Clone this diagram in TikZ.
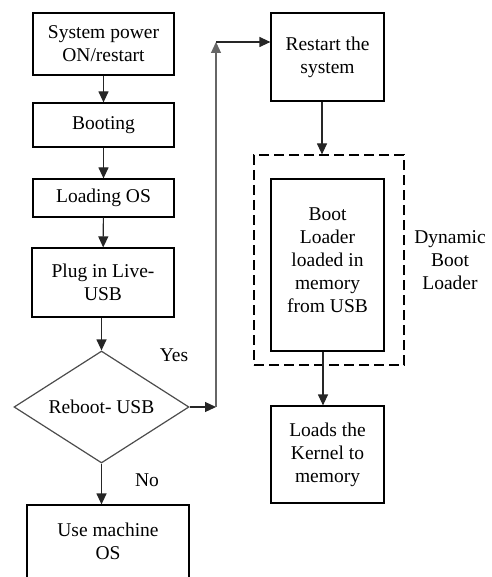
\documentclass[tikz,border=0pt]{standalone}
\usepackage{fontspec}
\setmainfont{Liberation Serif}
\newfontfamily\tmsfont{Liberation Serif}
\usetikzlibrary{arrows.meta,shapes.geometric}
\begin{document}
\begin{tikzpicture}[x=1pt,y=-1pt,
  txt/.style={align=center, font=\tmsfont\fontsize{19.5}{23}\selectfont, inner sep=0pt},
  box/.style={txt, draw, line width=1.2pt},
  arr/.style={-{Triangle[length=11pt,width=10pt]}, line width=1.2pt, draw=black!85}]
\useasboundingbox (0,0) rectangle (491,577);
\clip (0,0) rectangle (491,577);
% left column
\node[box, minimum width=141, minimum height=62] (b1) at (103.5,44) {System power\\ON/restart};
\node[box, minimum width=141, minimum height=44] (b2) at (103.5,125) {Booting};
\node[box, minimum width=141, minimum height=38] (b3) at (103.5,198) {Loading OS};
\node[box, minimum width=142, minimum height=69] (b4) at (103,282.5) {Plug in Live-\\USB};
\node[txt, diamond, draw=black!70, line width=1.2pt, minimum width=175, minimum height=112, aspect=1.5625] (dec) at (101.5,407) {Reboot- USB};
\node[box, minimum width=162, minimum height=100] (use) at (108,555) {};
\node[txt] (usetxt) at (108,541) {Use machine\\OS};
% right column
\node[box, minimum width=113, minimum height=88] (rst) at (327.5,57) {Restart the\\system};
\node[draw, dashed, dash pattern=on 10pt off 5pt, line width=1.2pt, minimum width=150, minimum height=210, inner sep=0pt] (dyn) at (329,260) {};
\node[box, minimum width=113, minimum height=172] (bl) at (327.5,265) {};
\node[txt] (bltxt) at (327.5,260) {Boot\\Loader\\loaded in\\memory\\from USB};
\node[box, minimum width=113, minimum height=97] (ker) at (327.5,454.5) {Loads the\\Kernel to\\memory};
% labels
\node[txt] (yes) at (174,355) {Yes};
\node[txt] (no) at (147,480) {No};
\node[txt] (dynlab) at (450,260) {Dynamic\\Boot\\Loader};
% connectors
\draw[arr] (b1) -- (b2);
\draw[arr] (b2) -- (b3);
\draw[arr] (b3) -- (b4);
\draw[arr] (b4.south -| dec.north) -- (dec.north);
\draw[arr] (dec.south) -- (dec.south |- use.north);
\coordinate (mid) at (216,407);
\coordinate (turn) at (216,42);
\coordinate (cx) at (322,0);
\coordinate (kx) at (323,0);
\draw[arr] (dec.east) -- (mid);
\draw[arr, draw=black!60] (mid) -- (turn);
\draw[arr] (turn) -- (turn -| rst.west);
\draw[arr] (cx |- rst.south) -- (cx |- dyn.north);
\draw[arr] (kx |- bl.south) -- (kx |- ker.north);
\end{tikzpicture}
\end{document}
